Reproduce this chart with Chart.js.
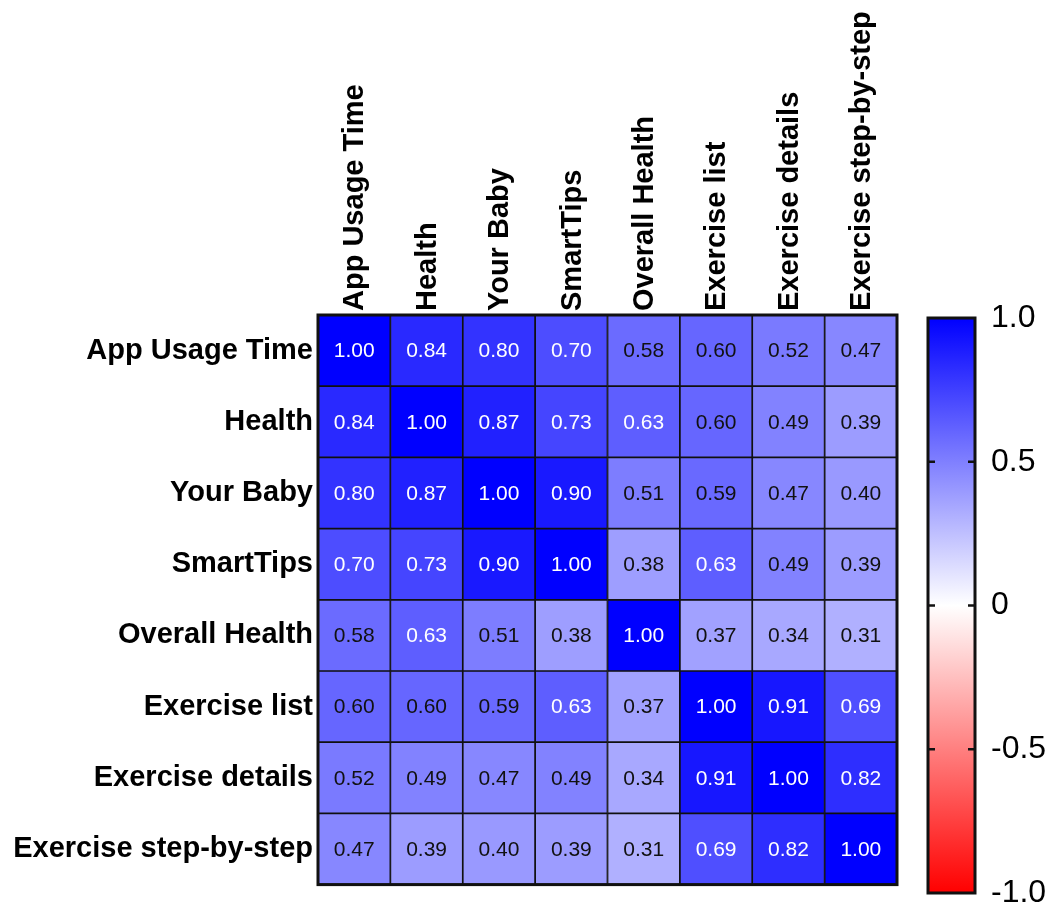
<!DOCTYPE html>
<html>
<head>
<meta charset="utf-8">
<script src="https://cdn.jsdelivr.net/npm/chart.js@4/dist/chart.umd.min.js"></script>
<style>
  body { margin: 0; background: #fff; }
  #wrap { position: relative; width: 1050px; height: 907px; }
  canvas { position: absolute; top: 0; }
  #heat { left: 0; }
  #bar { left: 910px; }
</style>
</head>
<body>
<div id="wrap">
  <canvas id="heat" width="910" height="907"></canvas>
  <canvas id="bar" width="140" height="907"></canvas>
</div>
<script>
// ---- data ----
const labels = ['App Usage Time', 'Health', 'Your Baby', 'SmartTips', 'Overall Health',
  'Exercise list', 'Exercise details', 'Exercise step-by-step'];

const rowAppUsage   = [1.00, 0.84, 0.80, 0.70, 0.58, 0.60, 0.52, 0.47];
const rowHealth     = [0.84, 1.00, 0.87, 0.73, 0.63, 0.60, 0.49, 0.39];
const rowYourBaby   = [0.80, 0.87, 1.00, 0.90, 0.51, 0.59, 0.47, 0.40];
const rowSmartTips  = [0.70, 0.73, 0.90, 1.00, 0.38, 0.63, 0.49, 0.39];
const rowOverall    = [0.58, 0.63, 0.51, 0.38, 1.00, 0.37, 0.34, 0.31];
const rowExList     = [0.60, 0.60, 0.59, 0.63, 0.37, 1.00, 0.91, 0.69];
const rowExDetails  = [0.52, 0.49, 0.47, 0.49, 0.34, 0.91, 1.00, 0.82];
const rowExStep     = [0.47, 0.39, 0.40, 0.39, 0.31, 0.69, 0.82, 1.00];
const corr = [rowAppUsage, rowHealth, rowYourBaby, rowSmartTips, rowOverall, rowExList, rowExDetails, rowExStep];

const scaleTicks = [-1, -0.5, 0, 0.5, 1];
const scaleTickLabels = ['-1.0', '-0.5', '0', '0.5', '1.0'];

// ---- helpers ----
const FONT = "'Liberation Sans', Arial, Helvetica, sans-serif";

function cellColor(v) {
  // white at 0 -> pure blue at 1, white -> red for negatives
  if (v >= 0) {
    const c = Math.round(255 * (1 - v));
    return `rgb(${c},${c},255)`;
  }
  const c = Math.round(255 * (1 + v));
  return `rgb(255,${c},${c})`;
}

const framePlugin = {
  id: 'frame',
  afterDraw(chart) {
    const a = chart.chartArea;
    const ctx = chart.ctx;
    ctx.save();
    ctx.strokeStyle = '#111';
    ctx.lineWidth = 3;
    ctx.strokeRect(a.left, a.top, a.right - a.left, a.bottom - a.top);
    ctx.restore();
  }
};

const cellTextPlugin = {
  id: 'cellText',
  afterDatasetsDraw(chart) {
    const ctx = chart.ctx;
    ctx.save();
    ctx.font = `21px ${FONT}`;
    ctx.textAlign = 'center';
    ctx.textBaseline = 'middle';
    chart.data.datasets.forEach((ds, r) => {
      chart.getDatasetMeta(r).data.forEach((bar, c) => {
        const { x, y, base } = bar.getProps(['x', 'y', 'base'], true);
        const v = corr[r][c];
        ctx.fillStyle = v > 0.61 ? '#fff' : '#111';
        ctx.fillText(v.toFixed(2), x, (y + base) / 2 + 1);
      });
    });
    ctx.restore();
  }
};

// ---- heatmap: one stacked dataset per row, unit-height cells ----
new Chart(document.getElementById('heat'), {
  type: 'bar',
  data: {
    labels: labels,
    datasets: corr.map((row, r) => ({
      label: labels[r],
      data: row.map(() => 1),
      backgroundColor: row.map(cellColor),
      borderColor: '#111',
      borderWidth: 1.2,
      borderSkipped: false,
      barPercentage: 1,
      categoryPercentage: 1
    }))
  },
  options: {
    responsive: false,
    animation: false,
    layout: { padding: { top: 0, right: 13, bottom: 14, left: 0 } },
    plugins: { legend: { display: false }, tooltip: { enabled: false } },
    scales: {
      x: {
        position: 'top',
        stacked: true,
        grid: { display: false, drawTicks: false },
        border: { display: false },
        ticks: {
          autoSkip: false, minRotation: 90, maxRotation: 90, padding: 4, labelOffset: 36,
          color: '#000', font: { family: FONT, size: 29, weight: 'bold' }
        },
        afterFit(scale) { scale.height = 315; }
      },
      y: {
        stacked: true,
        reverse: true,
        min: 0,
        max: labels.length,
        grid: { display: false, drawTicks: false },
        border: { display: false },
        afterBuildTicks(scale) { scale.ticks = labels.map((_, i) => ({ value: i + 0.5 })); },
        ticks: {
          autoSkip: false, padding: 5,
          color: '#000', font: { family: FONT, size: 29, weight: 'bold' },
          callback: (v, i) => labels[i]
        },
        afterFit(scale) { scale.width = 318; }
      }
    }
  },
  plugins: [cellTextPlugin, framePlugin]
});

// ---- colour scale bar ----
const innerTicksPlugin = {
  id: 'innerTicks',
  afterDraw(chart) {
    const a = chart.chartArea;
    const y = chart.scales.y;
    const ctx = chart.ctx;
    ctx.save();
    ctx.strokeStyle = '#111';
    ctx.lineWidth = 2.5;
    scaleTicks.filter(v => v > -1 && v < 1).forEach(v => {
      const py = y.getPixelForValue(v);
      ctx.beginPath();
      ctx.moveTo(a.left, py); ctx.lineTo(a.left + 7, py);
      ctx.moveTo(a.right - 7, py); ctx.lineTo(a.right, py);
      ctx.stroke();
    });
    ctx.restore();
  }
};

new Chart(document.getElementById('bar'), {
  type: 'bar',
  data: {
    labels: ['r'],
    datasets: [{
      data: [[scaleTicks[0], scaleTicks[scaleTicks.length - 1]]],
      backgroundColor(ctx) {
        const a = ctx.chart.chartArea;
        if (!a) return null;
        const g = ctx.chart.ctx.createLinearGradient(0, a.bottom, 0, a.top);
        g.addColorStop(0, cellColor(-1));
        g.addColorStop(0.5, cellColor(0));
        g.addColorStop(1, cellColor(1));
        return g;
      },
      borderWidth: 0,
      barPercentage: 1,
      categoryPercentage: 1
    }]
  },
  options: {
    responsive: false,
    animation: false,
    layout: { padding: { top: 318, right: 0, bottom: 14, left: 18 } },
    plugins: { legend: { display: false }, tooltip: { enabled: false } },
    scales: {
      x: { display: false },
      y: {
        position: 'right',
        min: -1,
        max: 1,
        grid: { display: false, drawTicks: false },
        border: { display: false },
        afterBuildTicks(scale) { scale.ticks = scaleTicks.map(v => ({ value: v })); },
        ticks: {
          padding: 16, color: '#000',
          font: { family: FONT, size: 32, lineHeight: 0.9 },
          callback: (v, i) => scaleTickLabels[i]
        },
        afterFit(scale) {
          scale.width = 75;
          scale.paddingTop = 0;
          scale.paddingBottom = 0;
        }
      }
    }
  },
  plugins: [innerTicksPlugin, framePlugin]
});
</script>
</body>
</html>
